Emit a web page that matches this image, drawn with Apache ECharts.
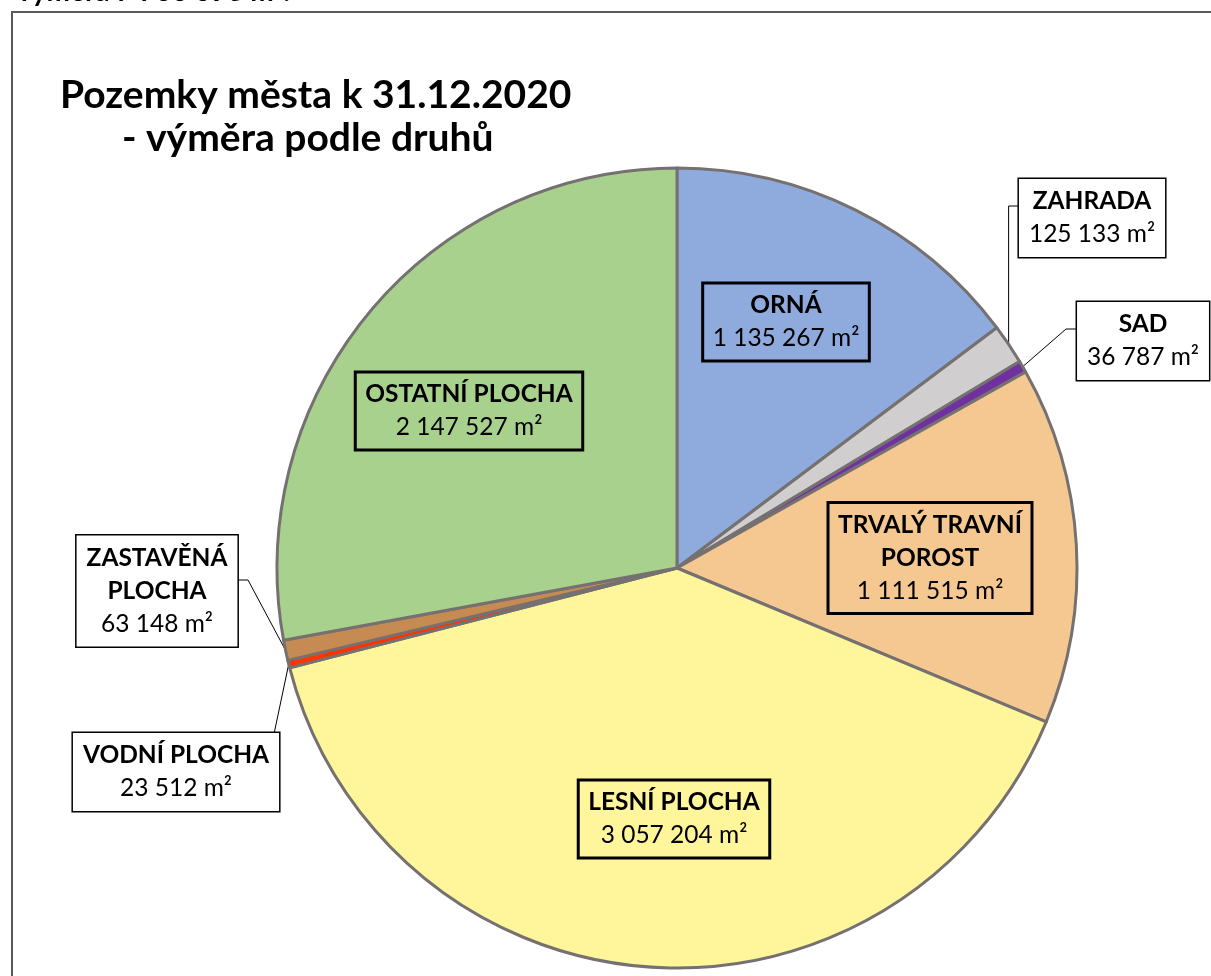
<!DOCTYPE html>
<html>
<head>
<meta charset="utf-8">
<script src="https://cdn.jsdelivr.net/npm/echarts@6/dist/echarts.min.js"></script>
<style>
  html, body { margin: 0; padding: 0; background: #fff; }
  #main { width: 1211px; height: 976px; }
</style>
</head>
<body>
<div id="main"></div>
<script>
// data
const categories = ['ORNÁ', 'ZAHRADA', 'SAD', 'TRVALÝ TRAVNÍ POROST', 'LESNÍ PLOCHA', 'VODNÍ PLOCHA', 'ZASTAVĚNÁ PLOCHA', 'OSTATNÍ PLOCHA'];
const areas = [1135267, 125133, 36787, 1111515, 3057204, 23512, 63148, 2147527];
const sliceColors = ['#8faadc', '#d0cece', '#7030a0', '#f5c891', '#fff59b', '#ff3300', '#c68b52', '#a9d18e'];
const titleLines = ['Pozemky města k 31.12.2020', '- výměra podle druhů'];

// label text wrap
const wrapped = {
    'TRVALÝ TRAVNÍ POROST': ['TRVALÝ TRAVNÍ', 'POROST'],
    'ZASTAVĚNÁ PLOCHA': ['ZASTAVĚNÁ', 'PLOCHA']
};
const outsideNames = ['ZAHRADA', 'SAD', 'VODNÍ PLOCHA', 'ZASTAVĚNÁ PLOCHA'];

// pie geometry
const CX = 677, CY = 568, R = 400;

// label box centres + where the leader line meets the box
const labelPlace = {
    'ORNÁ': { x: 786, y: 322 },
    'ZAHRADA': { x: 1092, y: 218, bend: 'vertical', joinX: 1019, joinY: 206 },
    'SAD': { x: 1143, y: 341, bend: 'diag', joinX: 1077, joinY: 329, elbowX: 1066 },
    'TRVALÝ TRAVNÍ POROST': { x: 930, y: 558 },
    'LESNÍ PLOCHA': { x: 674, y: 819 },
    'VODNÍ PLOCHA': { x: 176, y: 772, bend: 'corner', joinX: 274, joinY: 734 },
    'ZASTAVĚNÁ PLOCHA': { x: 157, y: 591, bend: 'diag', joinX: 236, joinY: 580, elbowX: 248 },
    'OSTATNÍ PLOCHA': { x: 469, y: 411 }
};

const total = areas.reduce((a, b) => a + b, 0);
function fmt(v) {
    return String(v).replace(/\B(?=(\d{3})+(?!\d))/g, ' ');
}

// mid angle of each slice (deg, clockwise from 12 o'clock)
const midAngles = [];
let acc = 0;
areas.forEach(v => {
    const a = v / total * 360;
    midAngles.push(acc + a / 2);
    acc += a;
});
function polar(deg, r) {
    const t = deg * Math.PI / 180;
    return [CX + r * Math.sin(t), CY - r * Math.cos(t)];
}

const FONT = 'Lato';

const pieData = categories.map((name, i) => {
    const outside = outsideNames.indexOf(name) >= 0;
    return {
        name: name,
        value: areas[i],
        itemStyle: { color: sliceColors[i] },
        label: {
            position: outside ? 'outside' : 'inside',
            backgroundColor: outside ? '#fff' : 'transparent'
        },
        labelLine: {
            show: outside,
            lineStyle: { color: '#000', width: 1 }
        }
    };
});

var myChart = echarts.init(document.getElementById('main'));

const option = {
    animation: false,
    title: [
        {
            text: 'výměra ' + fmt(total) + ' m²:',
            left: 12, top: -27,
            textStyle: { fontFamily: FONT, fontWeight: 'bold', fontSize: 28, color: '#000' }
        },
        {
            text: titleLines[0],
            left: 55, top: 71,
            textStyle: { fontFamily: FONT, fontWeight: 'bold', fontSize: 39, color: '#000' }
        },
        {
            text: titleLines[1],
            left: 117, top: 114,
            textStyle: { fontFamily: FONT, fontWeight: 'bold', fontSize: 39, color: '#000' }
        }
    ],
    graphic: [{
        type: 'rect',
        z: -1,
        shape: { x: 12, y: 12, width: 1240, height: 1000 },
        style: { fill: 'none', stroke: '#595959', lineWidth: 2 }
    }],
    series: [{
        type: 'pie',
        center: [CX, CY],
        radius: R,
        startAngle: 90,
        clockwise: true,
        avoidLabelOverlap: false,
        itemStyle: { borderColor: '#767171', borderWidth: 3 },
        label: {
            show: true,
            color: '#000',
            fontFamily: FONT,
            borderColor: '#000',
            borderWidth: 1.5,
            padding: [6, 10],
            align: 'center',
            formatter: function (p) {
                const lines = wrapped[p.name] || [p.name];
                return lines.map(s => '{b|' + s + '}').join('\n') + '\n{v|' + fmt(p.value) + ' m²}';
            },
            rich: {
                b: { fontFamily: FONT, fontWeight: 'bold', fontSize: 24.5, lineHeight: 33, align: 'center', color: '#000' },
                v: { fontFamily: FONT, fontSize: 24.5, lineHeight: 33, align: 'center', color: '#000' }
            }
        },
        labelLayout: function (params) {
            const name = categories[params.dataIndex];
            const pl = labelPlace[name];
            const res = { x: pl.x, y: pl.y, align: 'center', verticalAlign: 'middle' };
            if (pl.bend) {
                const anchor = polar(midAngles[params.dataIndex], R);
                let mid;
                if (pl.bend === 'vertical') mid = [anchor[0], pl.joinY];
                else if (pl.bend === 'diag') mid = [pl.elbowX, pl.joinY];
                else mid = [pl.joinX, pl.joinY];
                res.labelLinePoints = [anchor, mid, [pl.joinX, pl.joinY]];
            }
            return res;
        },
        data: pieData
    }]
};

myChart.setOption(option);
</script>
</body>
</html>
